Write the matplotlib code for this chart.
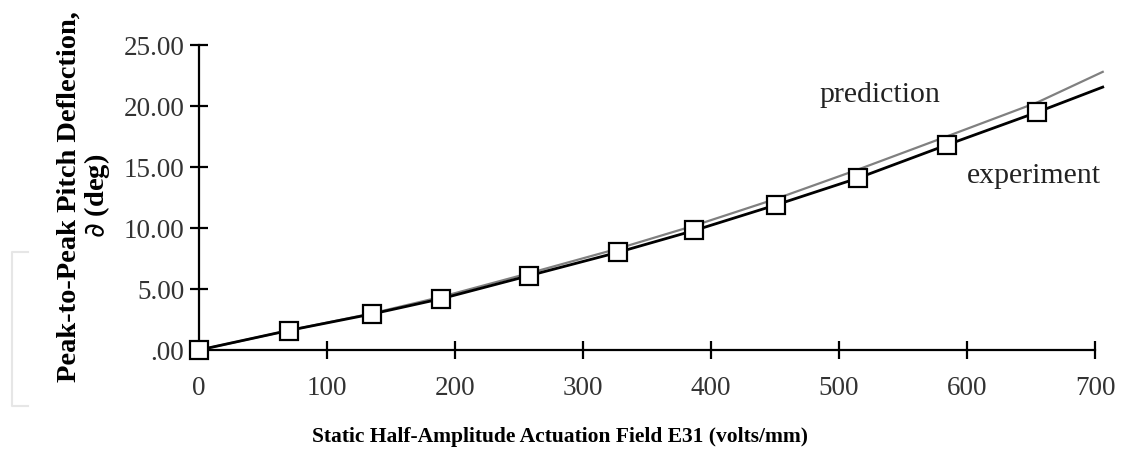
import numpy as np
import matplotlib
matplotlib.use("Agg")
from matplotlib import pyplot as plt
from matplotlib.lines import Line2D

# experiment (squares) and prediction curve
exp_x = [0, 70, 135, 189, 258, 327, 387, 451, 515, 584, 655, 706]
exp_y = [0.0, 1.6, 2.95, 4.2, 6.1, 8.0, 9.8, 11.9, 14.1, 16.8, 19.5, 21.55]
marker_n = 11  # last value is only the line end, no marker

pred_x = [0, 70, 135, 189, 258, 327, 387, 451, 515, 584, 655, 706]
pred_y = [0.0, 1.6, 3.0, 4.35, 6.3, 8.3, 10.2, 12.4, 14.8, 17.5, 20.3, 22.8]

xticks = [0, 100, 200, 300, 400, 500, 600, 700]
yticks = [0, 5, 10, 15, 20, 25]
ylabels = ['.00', '5.00', '10.00', '15.00', '20.00', '25.00']

plt.rcParams['font.family'] = ['Liberation Serif', 'DejaVu Serif']

fig = plt.figure(figsize=(11.35, 4.51), dpi=100)
ax = fig.add_axes([0.1753, 0.2239, 0.7895, 0.6763])

ax.plot(pred_x, pred_y, '-', color='#808080', lw=1.6, clip_on=False, zorder=2)
ax.plot(exp_x, exp_y, '-', color='black', lw=2.0, clip_on=False, zorder=3)
ax.plot(exp_x[:marker_n], exp_y[:marker_n], 's', ms=13, mfc='white', mec='black',
        mew=1.6, clip_on=False, zorder=4)

ax.set_xlim(0, 700)
ax.set_ylim(0, 25)
ax.set_xticks(xticks)
ax.set_yticks(yticks)
ax.set_yticklabels(ylabels)
for s in ['top', 'right']:
    ax.spines[s].set_visible(False)
for s in ['left', 'bottom']:
    ax.spines[s].set_linewidth(1.6)
ax.tick_params(direction='inout', length=13, width=1.6, labelsize=19.5,
               labelcolor='#333333')
ax.tick_params(axis='x', pad=12)
ax.tick_params(axis='y', pad=4)

ax.text(532, 20.9, 'prediction', fontsize=21.5, ha='center', va='center', color='#222222')
ax.text(652, 14.3, 'experiment', fontsize=21.5, ha='center', va='center', color='#222222')

fig.text(560 / 1135, 1 - 437 / 451, 'Static Half-Amplitude Actuation Field E31 (volts/mm)',
         fontsize=15.5, fontweight='bold', ha='center', va='center')
fig.text(69 / 1135, 0.565, 'Peak-to-Peak Pitch Deflection,', rotation=90,
         fontsize=20.5, fontweight='bold', ha='center', va='center')
fig.text(97 / 1135, 0.565, r'$\partial$ (deg)', rotation=90,
         fontsize=20.5, fontweight='bold', ha='center', va='center')

# faint scan bracket at the left edge
fig.add_artist(Line2D([0.025, 0.011, 0.011, 0.025], [1 - 252/451, 1 - 252/451, 1 - 406/451, 1 - 406/451],
                      color='#e6e6e6', lw=1.5))

fig.savefig('out.png', dpi=100)
